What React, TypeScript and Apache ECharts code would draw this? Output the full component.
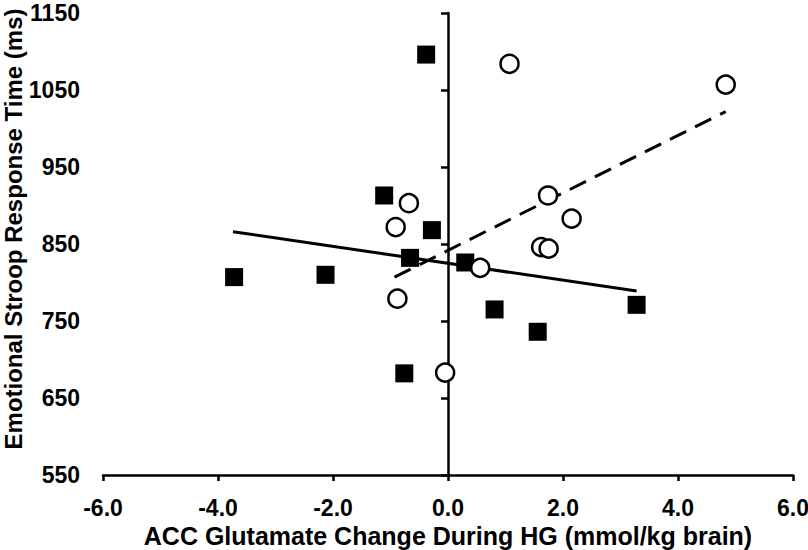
import React, { useEffect, useRef } from "react";
import * as echarts from "echarts";

// Group with filled squares
const squareX = [-0.38, -1.11, -0.28, -0.66, 0.30, -3.72, -2.13, -0.76, 0.81, 1.56, 3.28];
const squareY = [1096, 913, 868, 832, 826, 807, 810, 682, 765, 736, 771];

// Group with open circles
const circleX = [1.07, 4.83, -0.68, -0.91, 1.74, 2.15, 1.62, 1.75, 0.56, -0.88, -0.05];
const circleY = [1084, 1057, 903, 872, 913, 883, 846, 844, 819, 779, 683];

// Trend line end points
const solidFitX = [-3.74, 3.28];
const solidFitY = [866, 789];
const dashFitX = [-0.93, 4.83];
const dashFitY = [807, 1022];

const xTicks = { min: -6, max: 6, interval: 2 };
const yTicks = { min: 550, max: 1150, interval: 100 };

const xTitle = "ACC Glutamate Change During HG (mmol/kg brain)";
const yTitle = "Emotional Stroop Response Time (ms)";

const zip = (xs: number[], ys: number[]) => xs.map((x, i) => [x, ys[i]]);

const FONT = "'Liberation Sans', Arial, sans-serif";

export default function App() {
  const ref = useRef<HTMLDivElement>(null);
  useEffect(() => {
    if (!ref.current) return;
    const chart = echarts.init(ref.current, undefined, { renderer: "svg" });
    chart.setOption({
      animation: false,
      backgroundColor: "#ffffff",
      grid: {
        left: 103,
        right: 15,
        top: 13,
        bottom: 75,
        containLabel: false,
        outerBoundsMode: "none",
      },
      graphic: [
        {
          type: "text",
          x: 13,
          y: 229,
          rotation: Math.PI / 2,
          style: {
            text: yTitle,
            align: "center",
            verticalAlign: "middle",
            fontFamily: FONT,
            fontWeight: "bold",
            fontSize: 24,
            fill: "#000",
          },
        },
      ],
      xAxis: {
        type: "value",
        min: xTicks.min,
        max: xTicks.max,
        interval: xTicks.interval,
        name: xTitle,
        nameLocation: "middle",
        nameGap: 48,
        nameTextStyle: { fontFamily: FONT, fontWeight: "bold", fontSize: 25, color: "#000" },
        axisLine: { show: true, onZero: false, lineStyle: { color: "#000", width: 2.5 } },
        axisTick: { show: true, inside: false, length: 6, lineStyle: { color: "#000", width: 2.5 } },
        axisLabel: {
          margin: 21,
          fontFamily: FONT,
          fontWeight: "bold",
          fontSize: 23,
          color: "#000",
          formatter: (v: number) => v.toFixed(1),
        },
        splitLine: { show: false },
      },
      yAxis: [
        {
          type: "value",
          position: "left",
          min: yTicks.min,
          max: yTicks.max,
          interval: yTicks.interval,
          axisLine: { show: false, onZero: false },
          axisTick: { show: false },
          axisLabel: {
            margin: 23,
            fontFamily: FONT,
            fontWeight: "bold",
            fontSize: 23,
            lineHeight: 18,
            color: "#000",
            formatter: (v: number) => String(v),
          },
          splitLine: { show: false },
        },
        {
          type: "value",
          position: "right",
          min: yTicks.min,
          max: yTicks.max,
          interval: yTicks.interval,
          axisLine: { show: true, onZero: true, onZeroAxisIndex: 0, lineStyle: { color: "#000", width: 2.5 } },
          axisTick: { show: true, inside: true, length: 7, lineStyle: { color: "#000", width: 2.5 } },
          axisLabel: { show: false },
          splitLine: { show: false },
        },
      ],
      series: [
        {
          type: "line",
          data: zip(solidFitX, solidFitY),
          showSymbol: false,
          symbol: "none",
          lineStyle: { color: "#000", width: 3, type: "solid" },
          z: 3,
        },
        {
          type: "line",
          data: zip(dashFitX, dashFitY),
          showSymbol: false,
          symbol: "none",
          lineStyle: { color: "#000", width: 3, type: [18, 10] },
          z: 3,
        },
        {
          type: "scatter",
          data: zip(squareX, squareY),
          symbol: "rect",
          symbolSize: 18,
          itemStyle: { color: "#000", opacity: 1 },
          z: 4,
        },
        {
          type: "scatter",
          data: zip(circleX, circleY),
          symbol: "circle",
          symbolSize: 18,
          itemStyle: { color: "#fff", borderColor: "#000", borderWidth: 2.5, opacity: 1 },
          z: 5,
        },
      ],
    });
    return () => chart.dispose();
  }, []);
  return (
    <div
      ref={ref}
      style={{ position: "fixed", left: 0, top: 0, width: 808, height: 550 }}
    />
  );
}
